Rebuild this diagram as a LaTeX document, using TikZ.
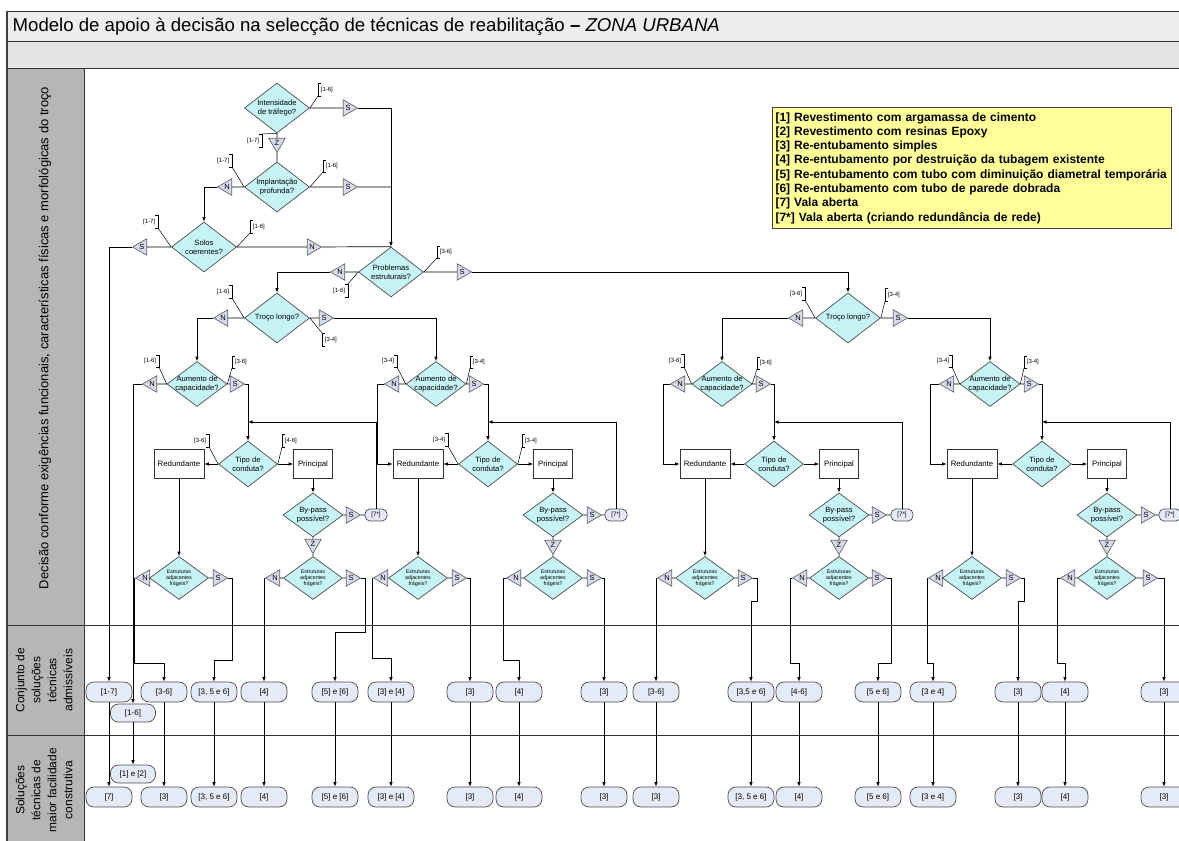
\documentclass[tikz,border=0pt]{standalone}
\usepackage{fontspec}
\setmainfont{Liberation Sans}
\usetikzlibrary{shapes.geometric,arrows.meta}

\definecolor{deccyan}{RGB}{198,244,244}
\definecolor{tricol}{RGB}{214,219,236}
\definecolor{solcol}{RGB}{228,235,246}
\definecolor{legyel}{RGB}{255,255,153}
\definecolor{titlegray}{RGB}{237,237,237}
\definecolor{bargray}{RGB}{228,228,228}
\definecolor{lanegray}{RGB}{182,182,182}

\tikzset{
  dec/.style={diamond,draw=black!70,fill=deccyan,inner sep=0pt},
  bigdec/.style={dec,minimum width=65pt,minimum height=50pt},
  aumdec/.style={dec,minimum width=60pt,minimum height=45pt},
  tipodec/.style={dec,minimum width=59pt,minimum height=46pt},
  bypdec/.style={dec,minimum width=60pt,minimum height=44pt},
  estrdec/.style={dec,minimum width=59pt,minimum height=43pt},
  dectext/.style={align=center,inner sep=0pt,font=\fontsize{7.6}{8.6}\selectfont},
  estrtext/.style={align=center,inner sep=0pt,font=\fontsize{5.3}{6.1}\selectfont},
  yn/.style={regular polygon,regular polygon sides=3,draw=black!60,fill=tricol,minimum size=19pt,inner sep=0pt,font=\fontsize{7.5}{7.5}\selectfont},
  ynR/.style={yn,shape border rotate=-90},
  ynL/.style={yn,shape border rotate=90},
  ynD/.style={yn,shape border rotate=180},
  act/.style={rectangle,draw=black!80,fill=white,minimum height=29pt,inner sep=1pt,font=\fontsize{7.8}{8}\selectfont},
  sol/.style={rectangle,rounded corners=8pt,draw=black!70,fill=solcol,minimum width=46pt,minimum height=20pt,inner sep=0pt,font=\fontsize{8}{8}\selectfont},
  vala/.style={rectangle,rounded corners=5pt,draw=black!70,fill=solcol,minimum width=22pt,minimum height=12pt,inner sep=0pt,font=\fontsize{6.3}{6.3}\selectfont},
  arr/.style={-{Latex[length=4.5pt,width=3.5pt]}},
  annline/.style={line width=0.5pt},
  anntext/.style={inner sep=0.5pt,font=\fontsize{6}{6}\selectfont}
}

\newcommand{\annR}[6]{%
  \draw[annline] (#2) -- (#3,#4);
  \draw[annline] ({#3+3},#4) -- (#3,#4) -- (#3,#5) -- ({#3+3},#5);
  \node[anntext,anchor=west] (#1) at ({#3+2},{(#4+#5)/2}) {#6};}
\newcommand{\annL}[6]{%
  \draw[annline] (#2) -- (#3,#4);
  \draw[annline] ({#3-3},#4) -- (#3,#4) -- (#3,#5) -- ({#3-3},#5);
  \node[anntext,anchor=east] (#1) at ({#3-2},{(#4+#5)/2}) {#6};}

\begin{document}
\begin{tikzpicture}[x=1pt,y=-1pt,line width=0.7pt]
\useasboundingbox (0,0) rectangle (1179,841);
\clip (0,0) rectangle (1179,841);

\filldraw[fill=titlegray,draw=black!80,line width=1pt] (7,11) rectangle (1190,41);
\filldraw[fill=bargray,draw=black!80,line width=1pt] (7,41) rectangle (1190,68);
\filldraw[fill=lanegray,draw=black!80,line width=1pt] (7,68) rectangle (84,850);
\draw[black!80,line width=1pt] (7,625) -- (1190,625);
\draw[black!80,line width=1pt] (7,735) -- (1190,735);
\draw[black!75,line width=1.4pt] (7,11) -- (7,850);

\node[anchor=west,font=\fontsize{18.6}{20}\selectfont] (title) at (9,27) {Modelo de apoio à decisão na selecção de técnicas de reabilitação \textbf{–} \textit{ZONA URBANA}};

\node[rotate=90,font=\fontsize{13}{15}\selectfont] (lab1) at (45,338) {Decisão conforme exigências funcionais, características físicas e morfológicas do troço};
\node[rotate=90,align=center,font=\fontsize{12}{16}\selectfont] (lab2) at (44,680) {Conjunto de\\soluções\\técnicas\\admissíveis};
\node[rotate=90,align=center,font=\fontsize{12}{16}\selectfont] (lab3) at (44,790) {Soluções\\técnicas de\\maior facilidade\\construtiva};

\node[draw=black!75,line width=1pt,fill=legyel,anchor=north west,text width=393pt,minimum height=121pt,align=left,inner xsep=3pt,inner ysep=3pt,font=\bfseries\fontsize{12}{14.3}\selectfont] (leg) at (772,107) {{[1]} Revestimento com argamassa de cimento\\
{[2]} Revestimento com resinas Epoxy\\
{[3]} Re-entubamento simples\\
{[4]} Re-entubamento por destruição da tubagem existente\\
{[5]} Re-entubamento com tubo com diminuição diametral temporária\\
{[6]} Re-entubamento com tubo de parede dobrada\\
{[7]} Vala aberta\\
{[7*]} Vala aberta (criando redundância de rede)};

\node[bigdec,label={[dectext]center:Intensidade\\de tráfego?}] (inten) at (277,108) {};
\node[ynR] (inten-s) at (348,108) {S};
\node[ynD] (inten-n) at (277,143) {Z};
\node[bigdec,label={[dectext]center:Implantação\\profunda?}] (impl) at (277,187) {};
\node[ynR] (impl-s) at (348,187) {S};
\node[ynL] (impl-n) at (227,187) {N};
\node[bigdec,label={[dectext]center:Solos\\coerentes?}] (solos) at (204,247) {};
\node[ynL] (solos-s) at (142,247) {S};
\node[ynR] (solos-n) at (312,247) {N};
\node[bigdec,label={[dectext]center:Problemas\\estruturais?}] (probl) at (391,272) {};
\node[ynL] (probl-n) at (340,272) {N};
\node[ynR] (probl-s) at (462,272) {S};
\node[bigdec,label={[dectext]center:Troço longo?}] (troco1) at (277,318) {};
\node[ynL] (troco1-n) at (223,318) {N};
\node[ynR] (troco1-s) at (324,318) {S};
\node[bigdec,label={[dectext]center:Troço longo?}] (troco2) at (848,318) {};
\node[ynL] (troco2-n) at (798,318) {N};
\node[ynR] (troco2-s) at (898,318) {S};

\node[aumdec,label={[dectext]center:Aumento de\\capacidade?}] (aum1) at (197,384) {};
\node[ynL] (aum1-n) at (152,384) {N};
\node[ynR] (aum1-s) at (235,384) {S};
\node[aumdec,label={[dectext]center:Aumento de\\capacidade?}] (aum2) at (436,384) {};
\node[ynL] (aum2-n) at (394,384) {N};
\node[ynR] (aum2-s) at (474,384) {S};
\node[aumdec,label={[dectext]center:Aumento de\\capacidade?}] (aum3) at (722,384) {};
\node[ynL] (aum3-n) at (680,384) {N};
\node[ynR] (aum3-s) at (761,384) {S};
\node[aumdec,label={[dectext]center:Aumento de\\capacidade?}] (aum4) at (990,384) {};
\node[ynL] (aum4-n) at (949,384) {N};
\node[ynR] (aum4-s) at (1029,384) {S};

\node[tipodec,label={[dectext]center:Tipo de\\conduta?}] (tipo1) at (248,464) {};
\node[act,minimum width=50pt] (red1) at (179,464) {Redundante};
\node[act,minimum width=39pt] (prin1) at (313,464) {Principal};
\node[tipodec,label={[dectext]center:Tipo de\\conduta?}] (tipo2) at (488,464) {};
\node[act,minimum width=50pt] (red2) at (418,464) {Redundante};
\node[act,minimum width=39pt] (prin2) at (553,464) {Principal};
\node[tipodec,label={[dectext]center:Tipo de\\conduta?}] (tipo3) at (774,464) {};
\node[act,minimum width=50pt] (red3) at (705,464) {Redundante};
\node[act,minimum width=39pt] (prin3) at (839,464) {Principal};
\node[tipodec,label={[dectext]center:Tipo de\\conduta?}] (tipo4) at (1042,464) {};
\node[act,minimum width=50pt] (red4) at (972,464) {Redundante};
\node[act,minimum width=39pt] (prin4) at (1107,464) {Principal};

\node[bypdec,label={[dectext]center:By-pass\\possível?}] (byp1) at (313,515) {};
\node[ynR] (byp1-s) at (351,515) {S};
\node[ynD] (byp1-n) at (313,544) {Z};
\node[vala] (vala1) at (376,515) {[7*]};
\node[bypdec,label={[dectext]center:By-pass\\possível?}] (byp2) at (553,515) {};
\node[ynR] (byp2-s) at (592,515) {S};
\node[ynD] (byp2-n) at (553,545) {Z};
\node[vala] (vala2) at (616,515) {[7*]};
\node[bypdec,label={[dectext]center:By-pass\\possível?}] (byp3) at (839,515) {};
\node[ynR] (byp3-s) at (877,515) {S};
\node[ynD] (byp3-n) at (839,545) {Z};
\node[vala] (vala3) at (902,515) {[7*]};
\node[bypdec,label={[dectext]center:By-pass\\possível?}] (byp4) at (1107,515) {};
\node[ynR] (byp4-s) at (1146,515) {S};
\node[ynD] (byp4-n) at (1107,545) {Z};
\node[vala] (vala4) at (1170,515) {[7*]};

\node[estrdec,label={[estrtext]center:Estruturas\\adjacentes\\frágeis?}] (estr1) at (179,578) {};
\node[ynL] (estr1-n) at (145,578) {N};
\node[ynR] (estr1-s) at (218,578) {S};
\node[estrdec,label={[estrtext]center:Estruturas\\adjacentes\\frágeis?}] (estr2) at (313,578) {};
\node[ynL] (estr2-n) at (275,578) {N};
\node[ynR] (estr2-s) at (351,578) {S};
\node[estrdec,label={[estrtext]center:Estruturas\\adjacentes\\frágeis?}] (estr3) at (418,578) {};
\node[ynL] (estr3-n) at (383,578) {N};
\node[ynR] (estr3-s) at (457,578) {S};
\node[estrdec,label={[estrtext]center:Estruturas\\adjacentes\\frágeis?}] (estr4) at (553,578) {};
\node[ynL] (estr4-n) at (516,578) {N};
\node[ynR] (estr4-s) at (592,578) {S};
\node[estrdec,label={[estrtext]center:Estruturas\\adjacentes\\frágeis?}] (estr5) at (705,578) {};
\node[ynL] (estr5-n) at (667,578) {N};
\node[ynR] (estr5-s) at (743,578) {S};
\node[estrdec,label={[estrtext]center:Estruturas\\adjacentes\\frágeis?}] (estr6) at (839,578) {};
\node[ynL] (estr6-n) at (802,578) {N};
\node[ynR] (estr6-s) at (877,578) {S};
\node[estrdec,label={[estrtext]center:Estruturas\\adjacentes\\frágeis?}] (estr7) at (972,578) {};
\node[ynL] (estr7-n) at (938,578) {N};
\node[ynR] (estr7-s) at (1011,578) {S};
\node[estrdec,label={[estrtext]center:Estruturas\\adjacentes\\frágeis?}] (estr8) at (1107,578) {};
\node[ynL] (estr8-n) at (1070,578) {N};
\node[ynR] (estr8-s) at (1148,578) {S};

\node[sol] (ca) at (109,692) {[1-7]};
\node[sol,minimum width=45pt,minimum height=18pt] (cx) at (133,713) {[1-6]};
\node[sol] (cb) at (164,692) {[3-6]};
\node[sol] (cc) at (214,692) {[3, 5 e 6]};
\node[sol] (cd) at (264,692) {[4]};
\node[sol] (ce) at (335,692) {[5] e [6]};
\node[sol] (cf) at (391,692) {[3] e [4]};
\node[sol] (cg) at (470,692) {[3]};
\node[sol] (ch) at (519,692) {[4]};
\node[sol] (ci) at (604,692) {[3]};
\node[sol] (cj) at (656,692) {[3-6]};
\node[sol] (ck) at (751,692) {[3,5 e 6]};
\node[sol] (cl) at (799,692) {[4-6]};
\node[sol] (cm) at (878,692) {[5 e 6]};
\node[sol] (cn) at (933,692) {[3 e 4]};
\node[sol] (co) at (1018,692) {[3]};
\node[sol] (cp) at (1065,692) {[4]};
\node[sol] (cq) at (1164,692) {[3]};

\node[sol,minimum width=45pt,minimum height=18pt] (my) at (133,774) {[1] e [2]};
\node[sol] (ma) at (109,797) {[7]};
\node[sol] (mb) at (164,797) {[3]};
\node[sol] (mc) at (214,797) {[3, 5 e 6]};
\node[sol] (md) at (264,797) {[4]};
\node[sol] (me) at (335,797) {[5] e [6]};
\node[sol] (mf) at (391,797) {[3] e [4]};
\node[sol] (mg) at (470,797) {[3]};
\node[sol] (mh) at (519,797) {[4]};
\node[sol] (mi) at (604,797) {[3]};
\node[sol] (mj) at (656,797) {[3]};
\node[sol] (mk) at (751,797) {[3, 5 e 6]};
\node[sol] (ml) at (799,797) {[4]};
\node[sol] (mm) at (878,797) {[5 e 6]};
\node[sol] (mn) at (933,797) {[3 e 4]};
\node[sol] (mo) at (1018,797) {[3]};
\node[sol] (mp) at (1065,797) {[4]};
\node[sol] (mq) at (1164,797) {[3]};

\coordinate (j1) at (248,422);
\coordinate (j2) at (488,422);
\coordinate (j3) at (774,422);
\coordinate (j4) at (1042,422);

\draw (inten) -- (inten-s);
\draw[arr] (inten-s) -| (probl.north);
\draw (inten) -- (inten-n) -- (impl);
\draw (impl) -- (impl-s) -- (impl-s -| probl.north);
\draw (impl) -- (impl-n);
\draw[arr] (impl-n.corner 1) -| (solos.north);
\draw (solos) -- (solos-s);
\draw[arr] (solos-s.corner 1) -| (ca.north);
\draw (solos) -- (solos-n) -- (probl.north);
\draw (probl) -- (probl-n);
\draw[arr] (probl-n.corner 1) -| (troco1.north);
\draw (probl) -- (probl-s);
\draw[arr] (probl-s.corner 1) -| (troco2.north);

\draw (troco1) -- (troco1-n);
\draw[arr] (troco1-n.corner 1) -| (aum1.north);
\draw (troco1) -- (troco1-s);
\draw[arr] (troco1-s.corner 1) -| (aum2.north);
\draw (troco2) -- (troco2-n);
\draw[arr] (troco2-n.corner 1) -| (aum3.north);
\draw (troco2) -- (troco2-s);
\draw[arr] (troco2-s.corner 1) -| (aum4.north);

\draw (aum1) -- (aum1-n);
\draw[arr] (aum1-n.corner 1) -| (cx.north);
\draw (aum1) -- (aum1-s);
\draw[arr] (aum1-s.corner 1) -| (tipo1.north);
\draw (aum2) -- (aum2-n);
\draw[arr] (aum2-n.corner 1) -- ++(-6,0) |- (red2);
\draw (aum2) -- (aum2-s);
\draw[arr] (aum2-s.corner 1) -| (tipo2.north);
\draw (aum3) -- (aum3-n);
\draw[arr] (aum3-n.corner 1) -- ++(-6,0) |- (red3);
\draw (aum3) -- (aum3-s);
\draw[arr] (aum3-s.corner 1) -| (tipo3.north);
\draw (aum4) -- (aum4-n);
\draw[arr] (aum4-n.corner 1) -- ++(-8,0) |- (red4);
\draw (aum4) -- (aum4-s);
\draw[arr] (aum4-s.corner 1) -| (tipo4.north);

\draw[arr] (tipo1) -- (red1);
\draw[arr] (tipo1) -- (prin1);
\draw[arr] (prin1) -- (byp1);
\draw (byp1) -- (byp1-s) -- (vala1);
\draw[arr] (vala1) |- (j1);
\draw (byp1) -- (byp1-n) -- (estr2);
\draw[arr] (red1) -- (estr1);
\draw[arr] (tipo2) -- (red2);
\draw[arr] (tipo2) -- (prin2);
\draw[arr] (prin2) -- (byp2);
\draw (byp2) -- (byp2-s) -- (vala2);
\draw[arr] (vala2) |- (j2);
\draw (byp2) -- (byp2-n) -- (estr4);
\draw[arr] (red2) -- (estr3);
\draw[arr] (tipo3) -- (red3);
\draw[arr] (tipo3) -- (prin3);
\draw[arr] (prin3) -- (byp3);
\draw (byp3) -- (byp3-s) -- (vala3);
\draw[arr] (vala3) |- (j3);
\draw (byp3) -- (byp3-n) -- (estr6);
\draw[arr] (red3) -- (estr5);
\draw[arr] (tipo4) -- (red4);
\draw[arr] (tipo4) -- (prin4);
\draw[arr] (prin4) -- (byp4);
\draw (byp4) -- (byp4-s) -- (vala4);
\draw[arr] (vala4) |- (j4);
\draw (byp4) -- (byp4-n) -- (estr8);
\draw[arr] (red4) -- (estr7);

\draw (estr1) -- (estr1-n);
\draw[arr] (estr1-n.corner 1) -- ++(0,85) -| (cb.north);
\draw (estr1) -- (estr1-s);
\draw[arr] (estr1-s.corner 1) -- ++(4,0) -- ++(0,82) -| (cc.north);
\draw (estr2) -- (estr2-n);
\draw[arr] (estr2-n.corner 1) -| (cd.north);
\draw (estr2) -- (estr2-s);
\draw[arr] (estr2-s.corner 1) -- ++(4,0) -- ++(0,54) -| (ce.north);
\draw (estr3) -- (estr3-n);
\draw[arr] (estr3-n.corner 1) -- ++(0,80) -| (cf.north);
\draw (estr3) -- (estr3-s);
\draw[arr] (estr3-s.corner 1) -| (cg.north);
\draw (estr4) -- (estr4-n);
\draw[arr] (estr4-n.corner 1) -- ++(-2,0) -- ++(0,82) -| (ch.north);
\draw (estr4) -- (estr4-s);
\draw[arr] (estr4-s.corner 1) -| (ci.north);
\draw (estr5) -- (estr5-n);
\draw[arr] (estr5-n.corner 1) -| (cj.north);
\draw (estr5) -- (estr5-s);
\draw[arr] (estr5-s.corner 1) -- ++(4,0) -- ++(0,23) -| (ck.north);
\draw (estr6) -- (estr6-n);
\draw[arr] (estr6-n.corner 1) -- ++(-1.5,0) -- ++(0,85) -| (cl.north);
\draw (estr6) -- (estr6-s);
\draw[arr] (estr6-s.corner 1) -- ++(4,0) -- ++(0,85) -| (cm.north);
\draw (estr7) -- (estr7-n);
\draw[arr] (estr7-n.corner 1) -- ++(0,85) -| (cn.north);
\draw (estr7) -- (estr7-s);
\draw[arr] (estr7-s.corner 1) -- ++(3.5,0) -- ++(0,23) -| (co.north);
\draw (estr8) -- (estr8-n);
\draw[arr] (estr8-n.corner 1) -- ++(-2.5,0) -- ++(0,85) -| (cp.north);
\draw (estr8) -- (estr8-s);
\draw[arr] (estr8-s.corner 1) -| (cq.north);

\draw[arr] (ca) -- (ma);
\draw[arr] (cx) -- (my);
\draw[arr] (cb) -- (mb);
\draw[arr] (cc) -- (mc);
\draw[arr] (cd) -- (md);
\draw[arr] (ce) -- (me);
\draw[arr] (cf) -- (mf);
\draw[arr] (cg) -- (mg);
\draw[arr] (ch) -- (mh);
\draw[arr] (ci) -- (mi);
\draw[arr] (cj) -- (mj);
\draw[arr] (ck) -- (mk);
\draw[arr] (cl) -- (ml);
\draw[arr] (cm) -- (mm);
\draw[arr] (cn) -- (mn);
\draw[arr] (co) -- (mo);
\draw[arr] (cp) -- (mp);
\draw[arr] (cq) -- (mq);

\annR{an1}{inten.east}{318}{96}{83}{[1-6]}
\annL{an2}{inten.south}{262}{134}{147}{[1-7]}
\annR{an3}{impl.east}{323}{172}{160}{[1-6]}
\annL{an4}{impl.west}{232}{167}{154}{[1-7]}
\annL{an5}{solos.west}{158}{228}{215}{[1-7]}
\annR{an6}{solos.east}{250}{233}{220}{[1-6]}
\annR{an7}{probl.east}{437}{258}{246}{[3-6]}
\annL{an8}{probl.west}{348}{284}{297}{[1-6]}
\annL{an9}{troco1.west}{232}{298}{285}{[1-6]}
\annR{an10}{troco1.east}{322}{333}{346}{[3-4]}
\annL{an11}{troco2.west}{805}{300}{287}{[3-6]}
\annR{an12}{troco2.east}{885}{301}{288}{[3-4]}
\annL{an13}{aum1.west}{159}{367}{355}{[1-6]}
\annR{an14}{aum1.east}{232}{368}{356}{[3-6]}
\annL{an15}{aum2.west}{397}{367}{355}{[3-4]}
\annR{an16}{aum2.east}{470}{368}{356}{[3-4]}
\annL{an17}{aum3.west}{684}{367}{354}{[3-6]}
\annR{an18}{aum3.east}{757}{369}{357}{[3-6]}
\annL{an19}{aum4.west}{952}{367}{355}{[3-4]}
\annR{an20}{aum4.east}{1024}{368}{356}{[3-4]}
\annL{an21}{tipo1.west}{209}{447}{434}{[3-6]}
\annR{an22}{tipo1.east}{282}{447}{434}{[4-6]}
\annL{an23}{tipo2.west}{448}{446}{433}{[3-4]}
\annR{an24}{tipo2.east}{522}{447}{434}{[3-4]}
\end{tikzpicture}
\end{document}
